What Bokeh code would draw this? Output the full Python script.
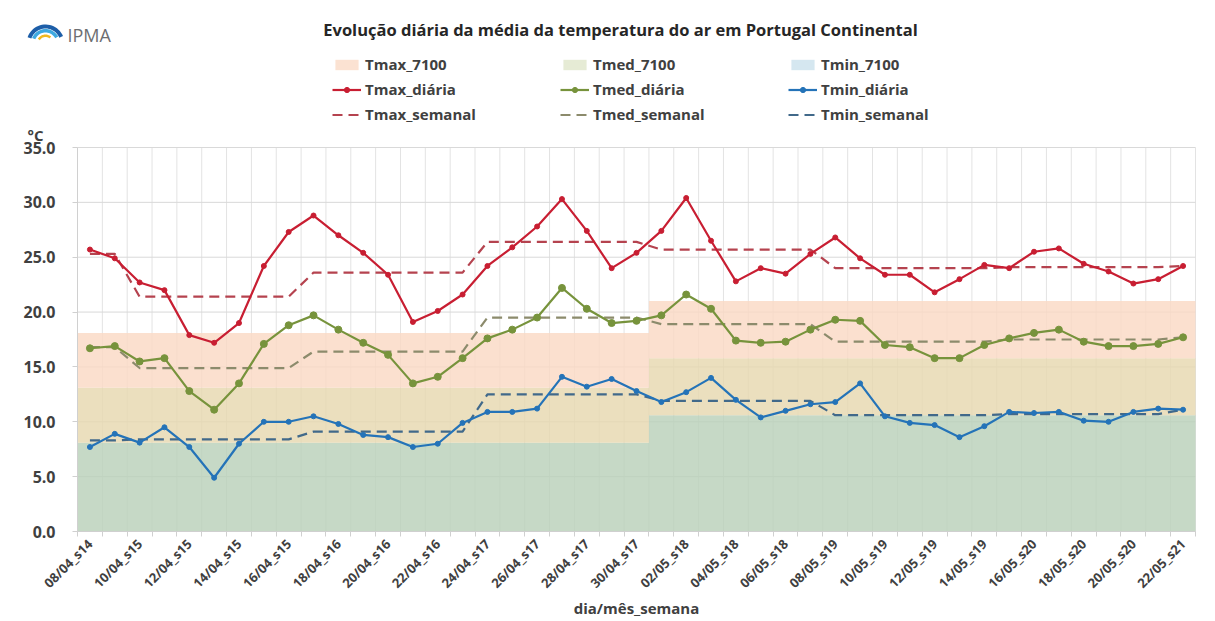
import numpy as np
from math import pi
from bokeh.plotting import figure
from bokeh.models import (FixedTicker, Legend, LegendItem, Label,
                          PrintfTickFormatter, Range1d)
from bokeh.embed import file_html
from bokeh.resources import INLINE

# ---------------- data ----------------
dias = ["08/04_s14", "09/04_s14", "10/04_s15", "11/04_s15", "12/04_s15", "13/04_s15",
        "14/04_s15", "15/04_s15", "16/04_s15", "17/04_s16", "18/04_s16", "19/04_s16",
        "20/04_s16", "21/04_s16", "22/04_s16", "23/04_s16", "24/04_s17", "25/04_s17",
        "26/04_s17", "27/04_s17", "28/04_s17", "29/04_s17", "30/04_s17", "01/05_s18",
        "02/05_s18", "03/05_s18", "04/05_s18", "05/05_s18", "06/05_s18", "07/05_s18",
        "08/05_s19", "09/05_s19", "10/05_s19", "11/05_s19", "12/05_s19", "13/05_s19",
        "14/05_s19", "15/05_s20", "16/05_s20", "17/05_s20", "18/05_s20", "19/05_s20",
        "20/05_s20", "21/05_s20", "22/05_s21"]

tmax_diaria = [25.7, 24.9, 22.7, 22.0, 17.9, 17.2, 19.0, 24.2, 27.3, 28.8,
               27.0, 25.4, 23.4, 19.1, 20.1, 21.6, 24.2, 25.9, 27.8, 30.3,
               27.4, 24.0, 25.4, 27.4, 30.4, 26.5, 22.8, 24.0, 23.5, 25.3,
               26.8, 24.9, 23.4, 23.4, 21.8, 23.0, 24.3, 24.0, 25.5, 25.8,
               24.4, 23.7, 22.6, 23.0, 24.2]
tmed_diaria = [16.7, 16.9, 15.5, 15.8, 12.8, 11.1, 13.5, 17.1, 18.8, 19.7,
               18.4, 17.2, 16.1, 13.5, 14.1, 15.8, 17.6, 18.4, 19.5, 22.2,
               20.3, 19.0, 19.2, 19.7, 21.6, 20.3, 17.4, 17.2, 17.3, 18.4,
               19.3, 19.2, 17.0, 16.8, 15.8, 15.8, 17.0, 17.6, 18.1, 18.4,
               17.3, 16.9, 16.9, 17.1, 17.7]
tmin_diaria = [7.7, 8.9, 8.1, 9.5, 7.7, 4.9, 8.0, 10.0, 10.0, 10.5,
               9.8, 8.8, 8.6, 7.7, 8.0, 9.9, 10.9, 10.9, 11.2, 14.1,
               13.2, 13.9, 12.8, 11.8, 12.7, 14.0, 12.0, 10.4, 11.0, 11.6,
               11.8, 13.5, 10.5, 9.9, 9.7, 8.6, 9.6, 10.9, 10.8, 10.9,
               10.1, 10.0, 10.9, 11.2, 11.1]

# weekly means (semanas 14..21)
semanas = [14, 15, 16, 17, 18, 19, 20, 21]
tmax_semanal_sem = [25.3, 21.4, 23.6, 26.4, 25.7, 24.0, 24.1, 24.2]
tmed_semanal_sem = [16.8, 14.9, 16.4, 19.5, 18.9, 17.3, 17.5, 17.7]
tmin_semanal_sem = [8.3, 8.4, 9.1, 12.5, 11.9, 10.6, 10.7, 11.1]

# monthly normals 1971-2000 (abril, maio)
meses = ["04", "05"]
tmax_7100_mes = [18.1, 21.0]
tmed_7100_mes = [13.1, 15.8]
tmin_7100_mes = [8.1, 10.6]

y_ticks = [0, 5, 10, 15, 20, 25, 30, 35]

# ---------------- derived per-day series ----------------
n = len(dias)
x = np.arange(n)
sem_dia = [int(d.split("_s")[1]) for d in dias]
mes_dia = [d[3:5] for d in dias]
tmax_semanal = [tmax_semanal_sem[semanas.index(s)] for s in sem_dia]
tmed_semanal = [tmed_semanal_sem[semanas.index(s)] for s in sem_dia]
tmin_semanal = [tmin_semanal_sem[semanas.index(s)] for s in sem_dia]
tmax_7100 = [tmax_7100_mes[meses.index(m)] for m in mes_dia]
tmed_7100 = [tmed_7100_mes[meses.index(m)] for m in mes_dia]
tmin_7100 = [tmin_7100_mes[meses.index(m)] for m in mes_dia]

edges = np.append(x - 0.5, x[-1] + 0.5)
def ext(a):
    return np.append(np.asarray(a, dtype=float), a[-1])

# ---------------- styling / geometry ----------------
FONT = "Open Sans"
TXT = "#404040"
RED = "#c81e32"
GRN = "#77933c"
BLU = "#2473b8"
RED_D = "#b5434f"
GRN_D = "#8c8b6c"
BLU_D = "#41698a"
DASH = "10 6"

W, H = 1215, 621
PL, PR, PT, PB = 77, 1195, 147, 531          # plotting area in page pixels
kx = (PR - PL) / (edges[-1] - edges[0])       # px per day
ky = (PB - PT) / (y_ticks[-1] - y_ticks[0])   # px per degree
x_start = edges[0] - PL / kx
x_end = edges[-1] + (W - PR) / kx
y_start = -(H - PB) / ky
y_end = PB / ky

p = figure(width=W, height=H, output_backend="svg", toolbar_location=None,
           x_range=Range1d(x_start, x_end), y_range=Range1d(y_start, y_end),
           min_border=0)
p.outline_line_color = None
p.grid.visible = False

# grid (restricted to plotting area)
p.segment(x0=edges, x1=edges, y0=y_ticks[0], y1=y_ticks[-1],
          line_color="#e3e3e3", line_width=1)
p.segment(x0=edges[0], x1=edges[-1], y0=y_ticks, y1=y_ticks,
          line_color="#d9d9d9", line_width=1)

# normal bands
p.varea_step(x=edges, y1=0, y2=ext(tmin_7100), step_mode="after",
             fill_color="#bad1ba", fill_alpha=0.82)
p.varea_step(x=edges, y1=ext(tmin_7100), y2=ext(tmed_7100), step_mode="after",
             fill_color="#e6d8b0", fill_alpha=0.82)
p.varea_step(x=edges, y1=ext(tmed_7100), y2=ext(tmax_7100), step_mode="after",
             fill_color="#fad9c4", fill_alpha=0.82)

# zero-area swatches for the legend
sw_max = p.varea(x=x[:1], y1=tmax_7100[:1], y2=tmax_7100[:1], fill_color="#fbe2d2")
sw_med = p.varea(x=x[:1], y1=tmed_7100[:1], y2=tmed_7100[:1], fill_color="#e6ebd5")
sw_min = p.varea(x=x[:1], y1=tmin_7100[:1], y2=tmin_7100[:1], fill_color="#d5e7f0")

# weekly dashed
r_maxs = p.line(x, tmax_semanal, line_color=RED_D, line_width=2.2, line_dash=DASH)
r_meds = p.line(x, tmed_semanal, line_color=GRN_D, line_width=2.2, line_dash=DASH)
r_mins = p.line(x, tmin_semanal, line_color=BLU_D, line_width=2.2, line_dash=DASH)

# daily lines
r_maxl = p.line(x, tmax_diaria, line_color=RED, line_width=2.2)
r_maxm = p.scatter(x, tmax_diaria, size=5, color=RED)
r_medl = p.line(x, tmed_diaria, line_color=GRN, line_width=2.2)
r_medm = p.scatter(x, tmed_diaria, size=7, color=GRN)
r_minl = p.line(x, tmin_diaria, line_color=BLU, line_width=2.2)
r_minm = p.scatter(x, tmin_diaria, size=5, color=BLU)

# y axis drawn at the left edge of the plotting area
p.yaxis.fixed_location = edges[0]
p.yaxis.bounds = (y_ticks[0], y_ticks[-1])
p.yaxis.ticker = FixedTicker(ticks=y_ticks)
p.yaxis.formatter = PrintfTickFormatter(format="%.1f")
p.yaxis.major_label_text_font = FONT
p.yaxis.major_label_text_font_style = "bold"
p.yaxis.major_label_text_font_size = "16px"
p.yaxis.major_label_text_color = TXT
p.yaxis.axis_line_color = "#d0d0d0"
p.yaxis.major_tick_line_color = "#d0d0d0"
p.yaxis.major_tick_out = 5
p.yaxis.major_tick_in = 0
p.yaxis.minor_tick_line_color = None
p.yaxis.major_label_standoff = 17

# x axis drawn at the bottom edge of the plotting area
even = list(range(0, n, 2))
p.xaxis.fixed_location = y_ticks[0]
p.xaxis.bounds = (edges[0], edges[-1])
p.xaxis.ticker = FixedTicker(ticks=even, minor_ticks=list(edges))
p.xaxis.major_label_overrides = {i: dias[i] for i in even}
p.xaxis.major_label_orientation = pi / 4
p.xaxis.major_label_text_font = FONT
p.xaxis.major_label_text_font_style = "bold"
p.xaxis.major_label_text_font_size = "13px"
p.xaxis.major_label_text_color = TXT
p.xaxis.major_label_standoff = 4
p.xaxis.axis_line_color = "#d0d0d0"
p.xaxis.major_tick_line_color = None
p.xaxis.minor_tick_line_color = "#d0d0d0"
p.xaxis.minor_tick_out = 5
p.xaxis.minor_tick_in = 0

# legend (3 columns)
items = [
    LegendItem(label="Tmax_7100", renderers=[sw_max]),
    LegendItem(label="Tmax_diária", renderers=[r_maxl, r_maxm]),
    LegendItem(label="Tmax_semanal", renderers=[r_maxs]),
    LegendItem(label="Tmed_7100", renderers=[sw_med]),
    LegendItem(label="Tmed_diária", renderers=[r_medl, r_medm]),
    LegendItem(label="Tmed_semanal", renderers=[r_meds]),
    LegendItem(label="Tmin_7100", renderers=[sw_min]),
    LegendItem(label="Tmin_diária", renderers=[r_minl, r_minm]),
    LegendItem(label="Tmin_semanal", renderers=[r_mins]),
]
legend = Legend(items=items, orientation="vertical", nrows=3,
                location=(332, H - 124),
                glyph_width=29, glyph_height=13, label_height=20,
                label_standoff=4, label_width=190, spacing=5,
                padding=0, margin=0, border_line_color=None,
                background_fill_alpha=0,
                label_text_font=FONT, label_text_font_style="bold",
                label_text_font_size="15px", label_text_color=TXT)
p.add_layout(legend)

def scr(px, py):
    return dict(x=px, y=H - py, x_units="screen", y_units="screen")

p.add_layout(Label(**scr(620, 29),
                   text="Evolução diária da média da temperatura do ar em Portugal Continental",
                   text_align="center", text_baseline="middle",
                   text_font=FONT, text_font_style="bold", text_font_size="16.5px",
                   text_color="#262626"))
p.add_layout(Label(**scr(27, 134), text="°C", text_align="left", text_baseline="middle",
                   text_font=FONT, text_font_style="bold", text_font_size="15px",
                   text_color=TXT))
# x axis title
p.add_layout(Label(**scr((PL + PR) / 2, 607), text="dia/mês_semana",
                   text_align="center", text_baseline="middle",
                   text_font=FONT, text_font_style="bold", text_font_size="15px",
                   text_color=TXT))

# IPMA logo (page pixel geometry converted to data units)
def arc_band(cx, cy, r1, r2, a0, a1, k=24):
    th = np.linspace(a0, a1, k)
    px = np.concatenate([cx + r2 * np.cos(th), cx + r1 * np.cos(th[::-1])])
    py = np.concatenate([cy - r2 * np.sin(th), cy - r1 * np.sin(th[::-1])])
    return list(x_start + px / kx), list((PB - py) / ky)

bands = [(15, 19, 0.4, 2.8, "#1d5ea8"),
         (11, 14.5, 0.5, 2.75, "#3fa9e0"),
         (6.5, 9, 0.9, 2.6, "#f2b81f")]
lx, ly, lc = [], [], []
for r1, r2, a0, a1, col in bands:
    xs, ys = arc_band(45, 43, r1, r2, a0, a1)
    lx.append(xs); ly.append(ys); lc.append(col)
p.patches(xs=lx, ys=ly, fill_color=lc, line_color=None)
p.add_layout(Label(**scr(67, 34), text="IPMA", text_align="left", text_baseline="middle",
                   text_font=FONT, text_font_size="18px", text_color="#6d6e71"))

open("out.html", "w").write(file_html(p, INLINE))
